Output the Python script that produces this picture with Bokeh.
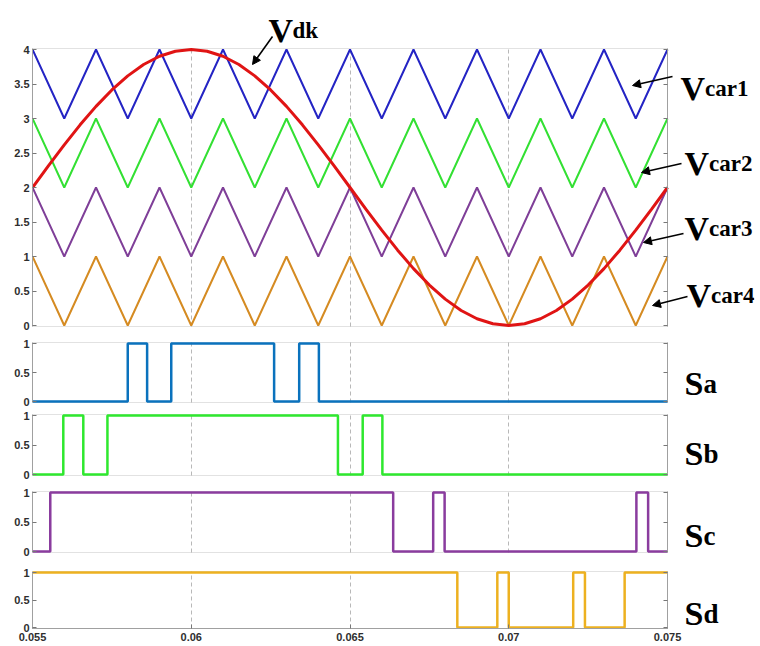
from bokeh.plotting import figure
from bokeh.layouts import column
from bokeh.models import (Range1d, LinearAxis, FixedTicker, Grid, Label, Arrow,
                          NormalHead, BoxAnnotation)
from bokeh.embed import file_html
from bokeh.resources import INLINE

# ---------------- data ----------------
car_t = [0.055, 0.056, 0.057, 0.058, 0.059, 0.060, 0.061, 0.062, 0.063, 0.064, 0.065,
         0.066, 0.067, 0.068, 0.069, 0.070, 0.071, 0.072, 0.073, 0.074, 0.075]
vcar1 = [4, 3, 4, 3, 4, 3, 4, 3, 4, 3, 4, 3, 4, 3, 4, 3, 4, 3, 4, 3, 4]
vcar2 = [3, 2, 3, 2, 3, 2, 3, 2, 3, 2, 3, 2, 3, 2, 3, 2, 3, 2, 3, 2, 3]
vcar3 = [2, 1, 2, 1, 2, 1, 2, 1, 2, 1, 2, 1, 2, 1, 2, 1, 2, 1, 2, 1, 2]
vcar4 = [1, 0, 1, 0, 1, 0, 1, 0, 1, 0, 1, 0, 1, 0, 1, 0, 1, 0, 1, 0, 1]

vdk_t = [0.0550, 0.0555, 0.0560, 0.0565, 0.0570, 0.0575, 0.0580, 0.0585, 0.0590, 0.0595,
         0.0600, 0.0605, 0.0610, 0.0615, 0.0620, 0.0625, 0.0630, 0.0635, 0.0640, 0.0645,
         0.0650, 0.0655, 0.0660, 0.0665, 0.0670, 0.0675, 0.0680, 0.0685, 0.0690, 0.0695,
         0.0700, 0.0705, 0.0710, 0.0715, 0.0720, 0.0725, 0.0730, 0.0735, 0.0740, 0.0745,
         0.0750]
vdk = [2.000, 2.313, 2.618, 2.908, 3.176, 3.414, 3.618, 3.782, 3.902, 3.975,
       4.000, 3.975, 3.902, 3.782, 3.618, 3.414, 3.176, 2.908, 2.618, 2.313,
       2.000, 1.687, 1.382, 1.092, 0.824, 0.586, 0.382, 0.218, 0.098, 0.025,
       0.000, 0.025, 0.098, 0.218, 0.382, 0.586, 0.824, 1.092, 1.382, 1.687,
       2.000]

sa_t = [0.055, 0.05800, 0.05861, 0.05937, 0.06261, 0.06340, 0.06402, 0.075]
sa = [0, 1, 0, 1, 0, 1, 0, 0]
sb_t = [0.055, 0.05597, 0.05660, 0.05736, 0.06462, 0.06540, 0.06602, 0.075]
sb = [0, 1, 0, 1, 0, 1, 0, 0]
sc_t = [0.055, 0.05556, 0.06636, 0.06762, 0.06798, 0.07402, 0.07439, 0.075]
sc = [0, 1, 0, 1, 0, 1, 0, 0]
sd_t = [0.055, 0.06838, 0.06964, 0.07000, 0.07203, 0.07240, 0.07365, 0.075]
sd = [1, 0, 1, 0, 1, 0, 1, 1]

x_ticks = [0.055, 0.06, 0.065, 0.07, 0.075]
x_tick_labels = ["0.055", "0.06", "0.065", "0.07", "0.075"]
grid_ticks = [0.06, 0.065, 0.07]
top_y_ticks = [0, 0.5, 1, 1.5, 2, 2.5, 3, 3.5, 4]
top_y_labels = ["0", "0.5", "1", "1.5", "2", "2.5", "3", "3.5", "4"]
sw_y_ticks = [0, 0.5, 1]
sw_y_labels = ["0", "0.5", "1"]

# ---------------- layout constants (canvas px) ----------------
W = 760
LB, RB = 32, 6            # left / right border
FL, FR = 32, 667          # pixel of x=0.055 / x=0.075
X0, X1 = 0.055, 0.075
FRAME_R = W - RB
X_END = X0 + (FRAME_R - FL) / (FR - FL) * (X1 - X0)

FRAME_LINE = "#a0a0a0"
TICK_COL = "#777777"
LBL_COL = "#2e2e2e"
SERIF = "Liberation Serif"
HAS_CROSS = "cross_bounds" in Grid.properties()


def px2x(px):
    return X0 + (px - FL) / (FR - FL) * (X1 - X0)


def style_axis(ax, standoff=3):
    ax.major_tick_in = 4
    ax.major_tick_out = 0
    ax.minor_tick_in = 0
    ax.minor_tick_out = 0
    ax.axis_line_color = FRAME_LINE
    ax.major_tick_line_color = TICK_COL
    ax.major_label_text_font = "Liberation Sans"
    ax.major_label_text_font_size = "11px"
    ax.major_label_text_font_style = "bold"
    ax.major_label_text_color = LBL_COL
    ax.major_label_standoff = standoff


def make_panel(canvas_top, height, border_bottom, v1, p1, v0, p0, box_t, box_b,
               yticks, ylabels, xaxis=False):
    """v1 drawn at canvas row p1, v0 at p0; box edges at rows box_t / box_b."""
    frame_top = canvas_top
    frame_bot = canvas_top + height - border_bottom
    k = (v1 - v0) / (p0 - p1)

    def ymap(py):
        return v0 + (p0 - py) * k

    p = figure(width=W, height=height,
               x_range=Range1d(X0, X_END),
               y_range=Range1d(ymap(frame_bot), ymap(frame_top)),
               output_backend="svg", toolbar_location=None,
               x_axis_location=None, y_axis_location=None,
               min_border_left=LB, min_border_right=RB,
               min_border_top=0, min_border_bottom=border_bottom)
    p.grid.visible = False
    p.outline_line_color = None
    p.background_fill_color = "white"
    p.border_fill_color = "white"
    yb, yt = ymap(box_b), ymap(box_t)

    if HAS_CROSS:
        p.add_layout(Grid(dimension=0, ticker=FixedTicker(ticks=grid_ticks),
                          cross_bounds=(yb, yt), grid_line_color="#b8b8b8",
                          grid_line_dash="4 3", grid_line_width=1))
    else:
        p.segment(x0=grid_ticks, x1=grid_ticks, y0=[yb] * len(grid_ticks),
                  y1=[yt] * len(grid_ticks), line_color="#b8b8b8",
                  line_dash="4 3", line_width=1)

    p.add_layout(BoxAnnotation(left=X0, right=X1, bottom=yb, top=yt,
                               fill_color=None, line_color=FRAME_LINE,
                               line_width=1, level="underlay"))

    la = LinearAxis(ticker=FixedTicker(ticks=yticks), bounds=(yb, yt),
                    major_label_overrides=dict(zip(yticks, ylabels)))
    style_axis(la)
    p.add_layout(la, "left")

    ra = LinearAxis(ticker=FixedTicker(ticks=yticks), bounds=(yb, yt),
                    fixed_location=X1,
                    major_label_overrides={t: "" for t in yticks})
    style_axis(ra, standoff=0)
    p.add_layout(ra, "right")

    if xaxis:
        xa = LinearAxis(ticker=FixedTicker(ticks=x_ticks), bounds=(X0, X1),
                        major_label_overrides=dict(zip(x_ticks, x_tick_labels)))
        style_axis(xa, standoff=4)
        p.add_layout(xa, "below")
    return p, ymap


def sub_label(p, ymap, px, py, main, sub, main_w, sub_size="23px"):
    p.add_layout(Label(x=px2x(px), y=ymap(py), text=main, text_font=SERIF,
                       text_font_size="34px", text_font_style="bold",
                       text_color="black", text_baseline="alphabetic",
                       text_align="left"))
    p.add_layout(Label(x=px2x(px + main_w), y=ymap(py), text=sub, text_font=SERIF,
                       text_font_size=sub_size, text_font_style="bold",
                       text_color="black", text_baseline="alphabetic",
                       text_align="left"))


def arrow(p, ymap, x0, y0, x1, y1):
    p.add_layout(Arrow(end=NormalHead(size=8, fill_color="black", line_color="black"),
                       start=None, x_start=px2x(x0), y_start=ymap(y0),
                       x_end=px2x(x1), y_end=ymap(y1),
                       line_color="black", line_width=1.6))


# ---------------- top panel ----------------
f1, y1m = make_panel(0, 334, 0, 4, 49, 0, 325, 48, 326, top_y_ticks, top_y_labels)
f1.line(car_t, vcar1, line_color="#2424c4", line_width=2)
f1.line(car_t, vcar2, line_color="#33e033", line_width=2)
f1.line(car_t, vcar3, line_color="#7f3f98", line_width=2)
f1.line(car_t, vcar4, line_color="#d58b22", line_width=2)
f1.line(vdk_t, vdk, line_color="#e01414", line_width=3)

sub_label(f1, y1m, 268, 30, "V", "dk", 24)
arrow(f1, y1m, 272, 36, 252, 64)
sub_label(f1, y1m, 680, 88, "V", "car1", 24.5)
arrow(f1, y1m, 672, 76, 632, 85)
sub_label(f1, y1m, 684, 163, "V", "car2", 24.5)
arrow(f1, y1m, 681, 163, 641, 172)
sub_label(f1, y1m, 684, 228, "V", "car3", 24.5)
arrow(f1, y1m, 683, 233, 643, 242)
sub_label(f1, y1m, 686, 295, "V", "car4", 24.5)
arrow(f1, y1m, 687, 296, 652, 305)

# ---------------- switching panels ----------------
panels = [
    # canvas top, height, bottom border, y=1 row, y=0 row, box top, box bottom,
    # t, s, colour, subscript, label baseline row
    (334, 74, 0, 343, 401, 342, 402, sa_t, sa, "#0a72bd", "a", 383),
    (408, 75, 0, 415, 474, 414, 475, sb_t, sb, "#2ee82e", "b", 453),
    (483, 78, 0, 492, 551, 491, 552, sc_t, sc, "#8a3c9e", "c", 535),
    (561, 85, 18, 572, 627, 571, 628, sd_t, sd, "#edb120", "d", 613),
]
figs = [f1]
for i, (ct, h, bb, p1, p0, bt, bbx, tt, ss, col, sub, base) in enumerate(panels):
    p, ym = make_panel(ct, h, bb, 1, p1, 0, p0, bt, bbx, sw_y_ticks, sw_y_labels,
                       xaxis=(i == len(panels) - 1))
    p.step(tt, ss, mode="after", line_color=col, line_width=2.5)
    sub_label(p, ym, 684, base, "S", sub, 19, sub_size="27px")
    figs.append(p)

layout = column(*figs, spacing=0)
open("out.html", "w").write(file_html(layout, INLINE))
